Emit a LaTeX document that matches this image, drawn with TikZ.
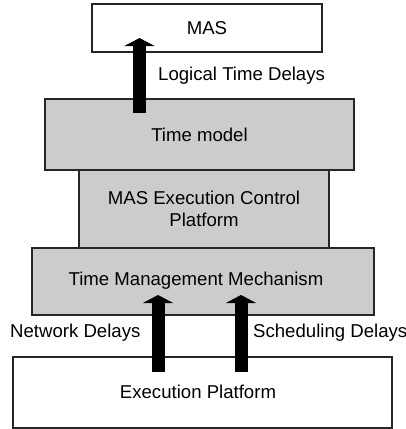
\documentclass[tikz,border=0pt]{standalone}
\usepackage{fontspec}
\setmainfont{Liberation Sans}
\usetikzlibrary{arrows.meta}
\begin{document}
\begin{tikzpicture}[x=1pt,y=-1pt,
  layer/.style={draw=black!85,line width=1.2pt,inner sep=0pt,font=\fontsize{18.6}{22}\selectfont},
  graybox/.style={layer,fill=black!20},
  whitebox/.style={layer,fill=white},
  lbl/.style={inner sep=0pt,font=\fontsize{18.6}{22}\selectfont},
  bigarrow/.style={line width=13pt,-{Triangle[width=30pt,length=8pt]}}]
\useasboundingbox (0,0) rectangle (406,429);
\node[whitebox,minimum width=230pt,minimum height=48pt] (mas) at (207,28) {MAS};
\node[graybox,minimum width=250pt,minimum height=78pt,align=center] (mecp) at (204,209) {MAS Execution Control\\Platform};
\node[graybox,minimum width=309pt,minimum height=71pt] (tm) at (199.5,134.5) {Time model};
\node[graybox,minimum width=342pt,minimum height=67pt] (tmm) at (203,281.5) {};
\node[lbl] (tmmtext) at (196,281) {Time Management Mechanism};
\node[whitebox,minimum width=379pt,minimum height=71pt] (ep) at (202.5,392.5) {};
\node[lbl] (eptext) at (198,392) {Execution Platform};
\coordinate (a1s) at (139.5,113);
\coordinate (a1e) at (139.5,38);
\coordinate (a2s) at (158,372);
\coordinate (a2e) at (158,295);
\coordinate (a3s) at (241,372);
\coordinate (a3e) at (241,295);
\draw[bigarrow] (a1s) -- (a1e);
\draw[bigarrow] (a2s) -- (a2e);
\draw[bigarrow] (a3s) -- (a3e);
\node[lbl,anchor=west] (ltd) at (158,76) {Logical Time Delays};
\node[lbl,anchor=west] (nd) at (10,333) {Network Delays};
\node[lbl,anchor=west] (sd) at (253,333) {Scheduling Delays};
\end{tikzpicture}
\end{document}
